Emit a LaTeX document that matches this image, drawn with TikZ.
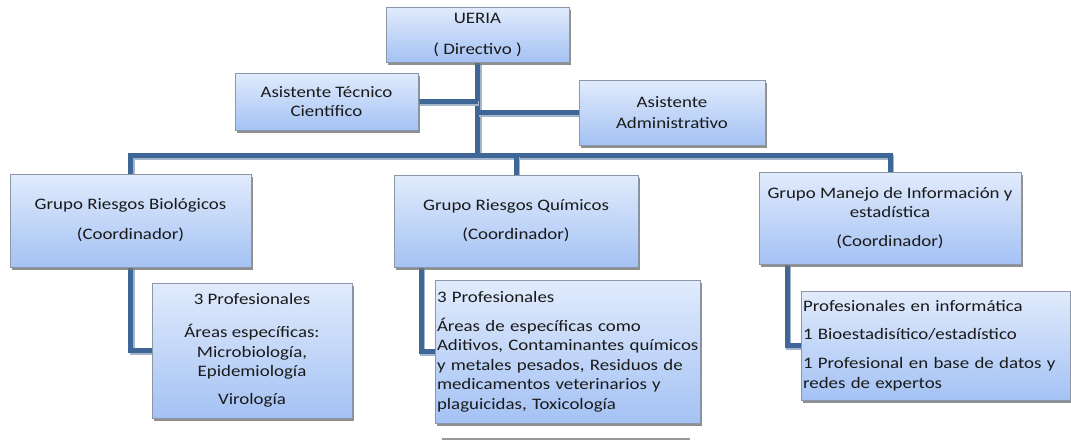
\documentclass[tikz,border=0pt]{standalone}
\usepackage{fontspec}
\setmainfont{Carlito}[FakeStretch=1.18]
\usetikzlibrary{shadows,backgrounds}
\definecolor{boxtop}{HTML}{E1EBFC}
\definecolor{boxbot}{HTML}{A4C2F4}
\definecolor{boxline}{HTML}{8C97A6}
\definecolor{conncol}{HTML}{3E6696}
\definecolor{connsh}{HTML}{A5B6CC}
\definecolor{txt}{HTML}{1A1A1A}
\tikzset{
 orgbox/.style={draw=boxline, line width=0.8pt, top color=boxtop, bottom color=boxbot,
   inner sep=0pt, text=txt, font=\fontsize{16}{19.5}\selectfont, align=center,
   drop shadow={shadow xshift=2pt, shadow yshift=-2.5pt, fill=black!55, opacity=0.8}},
 leftbox/.style={orgbox, align=left, inner xsep=2pt, text width=#1},
 link/.style={draw=conncol, line width=5pt,
   preaction={draw=connsh, line width=5pt, transform canvas={shift={(1.5pt,-2pt)}}}},
 stray/.style={draw=black!40, line width=1.2pt},
}
\begin{document}
\begin{tikzpicture}[x=1pt,y=-1pt]
\useasboundingbox (0,0) rectangle (1071,440);
\node[orgbox, minimum width=183pt, minimum height=55pt] (ueria) at (477.5,34.5) {UERIA\\[11.5pt]( Directivo )};
\node[orgbox, minimum width=183pt, minimum height=57pt] (tec) at (326.5,101.5) {Asistente Técnico\\Científico};
\node[orgbox, minimum width=186pt, minimum height=65pt] (adm) at (672,112.5) {Asistente\\[1.5pt]Administrativo};
\node[orgbox, minimum width=241pt, minimum height=93pt] (bio) at (130.5,220.5) {Grupo Riesgos Biológicos\\[10.5pt](Coordinador)};
\node[orgbox, minimum width=200pt, minimum height=135pt] (bios) at (252,350.5) {3 Profesionales\\[13.5pt]Áreas específicas:\\Microbiología,\\Epidemiología\\[8.5pt]Virología};
\node[orgbox, minimum width=244pt, minimum height=92pt] (qui) at (516,221) {Grupo Riesgos Químicos\\[9.5pt](Coordinador)};
\node[leftbox=261pt, minimum height=143pt] (quis) at (567.5,351.5) {\mbox{3 Profesionales}\\[9.5pt]\mbox{Áreas de específicas como}\\\mbox{Aditivos, Contaminantes químicos}\\\mbox{y metales pesados, Residuos de}\\\mbox{medicamentos veterinarios y}\\\mbox{plaguicidas, Toxicología}};
\node[orgbox, minimum width=262pt, minimum height=92pt] (inf) at (890,218) {Grupo Manejo de Información y\\estadística\\[9.5pt](Coordinador)};
\node[leftbox=265pt, minimum height=109pt] (infs) at (935.5,345.5) {\mbox{Profesionales en informática}\\[8.5pt]\mbox{1 Bioestadisítico/estadístico}\\[9.5pt]\mbox{1 Profesional en base de datos y}\\\mbox{redes de expertos}};
\coordinate (bus) at (477.5,155);
\coordinate (s1) at (442,439);
\coordinate (s2) at (690,439);
\begin{scope}[on background layer]
\draw[link] (ueria.south) -- (bus);
\draw[link] (tec.east) -- (tec.east -| ueria.south);
\draw[link] (adm.west) -- (adm.west -| ueria.south);
\draw[link] (bio.north) |- (bus) -| (inf.north);
\draw[link] (bus -| qui.north) -- (qui.north);
\draw[link] (bio.south) |- (bios.west);
\draw[link] ([xshift=-95pt]qui.south) |- (quis.west);
\draw[link] ([xshift=-103pt]inf.south) |- (infs.west);
\end{scope}
\draw[stray] (s1) -- (s2);
\end{tikzpicture}
\end{document}
